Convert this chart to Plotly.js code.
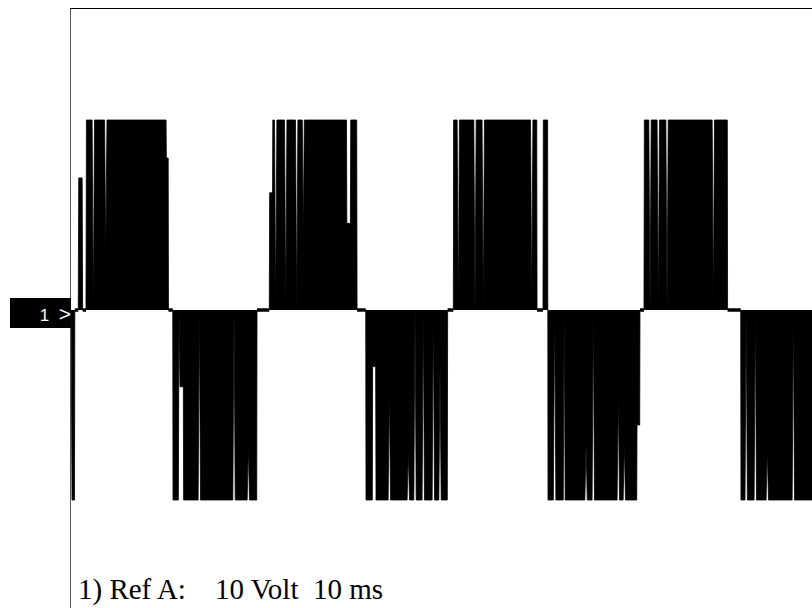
<!DOCTYPE html>
<html>
<head>
<meta charset="utf-8">
<script src="https://cdn.plot.ly/plotly-3.0.1.min.js"></script>
<style>
  html, body { margin: 0; padding: 0; background: #fff; }
  #chart { width: 812px; height: 608px; }
</style>
</head>
<body>
<div id="chart"></div>
<script>
const startT = [0, 0.11, 0.38, 0.41, 0.78, 0.83, 1.20, 1.25];
const startV = [0, -10, -10, 0, 0, 6.95, 6.95, 0];

const pos1T = [1.61, 1.66, 2.27, 2.40, 2.53, 3.61, 3.74, 3.87, 10.22, 10.25, 10.45, 10.48];
const pos1V = [0, 10, 10, 0, 10, 10, 3, 10, 10, 8.0, 8.0, 0];

const neg1T = [10.94, 10.97, 11.54, 11.62, 11.72, 12.08, 12.11, 13.67, 13.80, 13.93, 17.40, 17.53, 17.66, 18.94, 19.07, 19.19, 19.97, 20.00];
const neg1V = [0, -10, -10, 0, -4.04, -4.04, -10, -10, 0, -10, -10, 0, -10, -10, -7.2, -10, -10, 0];

const pos2T = [21.32, 21.36, 21.67, 21.70, 21.88, 22.01, 22.14, 22.96, 23.09, 23.22, 24.14, 24.27, 24.40, 24.87, 24.98, 25.09, 29.62, 29.66, 30.04, 30.08, 30.72, 30.76];
const pos2V = [0, 6.17, 6.17, 10, 10, 0, 10, 10, 0, 10, 10, 0, 10, 10, 4, 10, 10, 4.56, 4.56, 10, 10, 0];

const neg2T = [31.69, 31.72, 32.40, 32.43, 32.76, 32.80, 34.10, 34.23, 34.36, 36.14, 36.27, 36.40, 36.86, 36.99, 37.12, 37.75, 37.88, 38.01, 38.83, 38.96, 39.09, 39.55, 39.68, 39.81, 40.46, 40.50];
const neg2V = [0, -10, -10, -2.98, -2.98, -10, -10, -4.2, -10, -10, -7.5, -10, -10, 0, -10, -10, 0, -10, -10, 0, -10, -10, -2.98, -10, -10, 0];

const pos3T = [41.11, 41.14, 41.52, 41.65, 41.77, 43.31, 43.44, 43.57, 44.20, 44.33, 44.46, 49.41, 49.54, 49.67, 50.08, 50.11, 50.75, 50.79, 51.25];
const pos3V = [0, 10, 10, 0, 10, 10, 0, 10, 10, 0, 10, 10, 0, 10, 10, 0, 0, 10, 10];

const neg3T = [51.29, 51.86, 52.00, 52.14, 52.93, 53.03, 53.14, 55.25, 55.38, 55.51, 56.03, 56.16, 56.29, 58.72, 58.85, 58.98, 59.37, 59.50, 59.62, 60.83, 60.86, 61.15, 61.18];
const neg3V = [-10, -10, 0, -10, -10, 0, -10, -10, -7, -10, -10, 0, -10, -10, -4.4, -10, -10, -7, -10, -10, -6.05, -6.05, 0];

const pos4T = [61.61, 61.65, 62.13, 62.26, 62.39, 63.02, 63.15, 63.28, 63.96, 64.09, 64.22, 68.94, 69.07, 69.19, 70.57, 70.60];
const pos4V = [0, 10, 10, 0, 10, 10, 0, 10, 10, 0, 10, 10, 0, 10, 10, 0];

const neg4T = [72.01, 72.04, 72.47, 72.60, 72.73, 73.45, 73.58, 73.71, 74.74, 74.87, 75.00, 77.54, 77.67, 77.80, 80.0];
const neg4V = [0, -10, -10, 0, -10, -10, 0, -10, -10, -7.37, -10, -10, 0, -10, -10];

const channelLabel = "1  <span style='font-size:21px'>&gt;</span>";
const captionText = "1) Ref A:    10 Volt  10 ms";

// assemble trace
const T = [].concat(startT, pos1T, neg1T, pos2T, neg2T, pos3T, neg3T, pos4T, neg4T);
const V = [].concat(startV, pos1V, neg1V, pos2V, neg2V, pos3V, neg3V, pos4V, neg4V);

// the parts where the trace rests at 0 volt (consecutive zero samples)
const V0 = V.map((v, i) =>
  (v === 0 && ((i > 0 && V[i - 1] === 0) || (i < V.length - 1 && V[i + 1] === 0))) ? 0 : null);

const traces = [
  {
    x: T, y: V, type: 'scatter', mode: 'lines',
    line: { color: '#000', width: 0.8 },
    fill: 'tozeroy', fillcolor: '#000',
    hoverinfo: 'skip'
  },
  {
    x: T, y: V0, type: 'scatter', mode: 'lines',
    line: { color: '#000', width: 3.5 },
    connectgaps: false,
    hoverinfo: 'skip'
  }
];

const layout = {
  width: 812, height: 608,
  margin: { l: 71, r: 0, t: 9, b: 0, pad: 0 },
  paper_bgcolor: '#fff', plot_bgcolor: '#fff',
  showlegend: false,
  xaxis: {
    range: [0, 79.677], side: 'top',
    showgrid: false, zeroline: false, showticklabels: false, ticks: '',
    showline: true, linecolor: '#000', linewidth: 1, fixedrange: true
  },
  yaxis: {
    range: [-15.684, 15.842],
    showgrid: false, zeroline: false, showticklabels: false, ticks: '',
    showline: true, linecolor: '#555', linewidth: 1, fixedrange: true
  },
  annotations: [
    {
      xref: 'paper', yref: 'y', x: 0, y: 0, xanchor: 'right', yanchor: 'middle',
      yshift: -3,
      text: channelLabel, showarrow: false, align: 'right',
      width: 61, height: 30, bgcolor: '#000', borderpad: 0, borderwidth: 0,
      font: { family: 'Liberation Sans, Arial, sans-serif', size: 17, color: '#fff' }
    },
    {
      xref: 'paper', yref: 'paper', x: 0.0068, y: 0, xanchor: 'left', yanchor: 'bottom',
      text: captionText, showarrow: false, align: 'left',
      font: { family: 'Liberation Serif, Times New Roman, serif', size: 29, color: '#000' }
    }
  ]
};

Plotly.newPlot('chart', traces, layout, { staticPlot: true, displayModeBar: false });
</script>
</body>
</html>
